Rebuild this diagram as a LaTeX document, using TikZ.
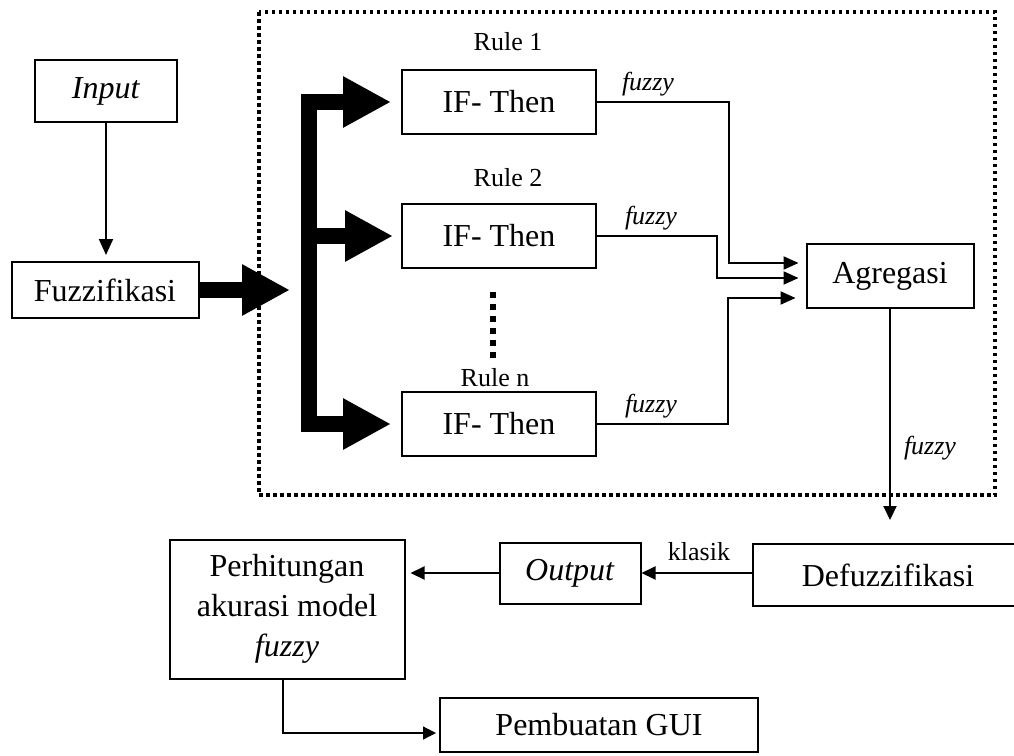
\documentclass[tikz,border=0pt]{standalone}
\usepackage{fontspec}
\setmainfont{Liberation Serif}
\usetikzlibrary{arrows.meta}

\tikzset{
  box/.style={draw,line width=2pt,inner sep=0pt,align=center,font=\fontsize{32}{40}\selectfont},
  lbl/.style={inner sep=0pt,font=\fontsize{26}{30}\selectfont},
  thin arrow/.style={line width=2pt,-{Triangle[length=15pt,width=13pt]}},
  big arrow/.style={line width=16pt,line join=miter,-{Triangle[length=48pt,width=48pt]}},
  dot frame/.style={line width=3.5pt,dash pattern=on 3.5pt off 3.5pt},
  rule dots/.style={line width=6pt,dash pattern=on 6pt off 6pt},
}

\begin{document}
\begin{tikzpicture}[x=1pt,y=-1pt]

      \useasboundingbox (0,0) rectangle (1014,755);

      \draw[dot frame] (259,12) rectangle (995,495);

      \begin{scope}[every node/.style={box}]
        \node[minimum width=142pt,minimum height=62pt] (input)  at (106,91)  {\textit{Input}};
        \node[minimum width=187pt,minimum height=56pt] (fuzz)   at (105,290) {Fuzzifikasi};
        \node[minimum width=194pt,minimum height=64pt] (if1)    at (499,102) {IF- Then};
        \node[minimum width=194pt,minimum height=64pt] (if2)    at (499,236) {IF- Then};
        \node[minimum width=194pt,minimum height=64pt] (ifn)    at (499,424) {IF- Then};
        \node[minimum width=167pt,minimum height=64pt] (agr)    at (890,276) {Agregasi};
        \node[minimum width=270pt,minimum height=62pt] (defuzz) at (888,575) {Defuzzifikasi};
        \node[minimum width=141pt,minimum height=61pt] (output) at (570,573) {\textit{Output}};
        \node[minimum width=235pt,minimum height=139pt] (hitung) at (287,609) {Perhitungan\\akurasi model\\\textit{fuzzy}};
        \node[minimum width=318pt,minimum height=54pt] (gui)    at (599,725) {Pembuatan GUI};
      \end{scope}

      \begin{scope}[every node/.style={lbl}]
        \node (rule1) at (508,42)  {Rule 1};
        \node (rule2) at (508,178) {Rule 2};
        \node (rulen) at (495,378) {Rule n};
        \node (fz1)   at (648,84)  {\textit{fuzzy}};
        \node (fz2)   at (651,218) {\textit{fuzzy}};
        \node (fzn)   at (651,406) {\textit{fuzzy}};
        \node (fzagr) at (930,448) {\textit{fuzzy}};
        \node (klas)  at (699,552) {klasik};
      \end{scope}

      \coordinate (split)  at (290,290);
      \coordinate (barbot) at (309,424);

      \draw[big arrow] (fuzz.east) -- (split);
      \draw[big arrow,{Triangle[length=48pt,width=48pt]}-{Triangle[length=48pt,width=48pt]},
            shorten <=10pt,shorten >=10pt] (if1.west) -| (barbot) -- (ifn.west);
      \draw[big arrow,shorten >=8pt] (barbot |- if2.west) -- (if2.west);

      \draw[rule dots] ([xshift=-6pt,yshift=-23pt]if2.south) -- ++(0,66);

      \draw[thin arrow,-{Triangle[length=16pt,width=14pt]},shorten >=6pt] (input.south) -- (input.south |- fuzz.north);

      \draw[thin arrow,shorten >=7pt] (if1.east) -- ++(132,0) |- ([yshift=13pt]agr.west);
      \draw[thin arrow,shorten >=7pt] (if2.east) -- ++(120,0) |- ([yshift=-2pt]agr.west);
      \draw[thin arrow,shorten >=10pt] (ifn.east) -- ++(131,0) |- ([yshift=-22pt]agr.west);

      \draw[thin arrow,-{Triangle[length=14pt,width=13pt]},shorten >=23pt] (agr.south) -- (agr.south |- defuzz.north);
      \draw[thin arrow,-{Triangle[length=14pt,width=13pt]}] (defuzz.west |- output.east) -- (output.east);
      \draw[thin arrow,-{Triangle[length=14pt,width=13pt]},shorten >=5pt] (output.west) -- (hitung.east |- output.west);
      \draw[line width=1.2pt,-{Triangle[length=13pt,width=13pt]},shorten >=3pt] ([xshift=-4pt]hitung.south) |- ([yshift=-8pt]gui.west);

    \end{tikzpicture}
\end{document}
